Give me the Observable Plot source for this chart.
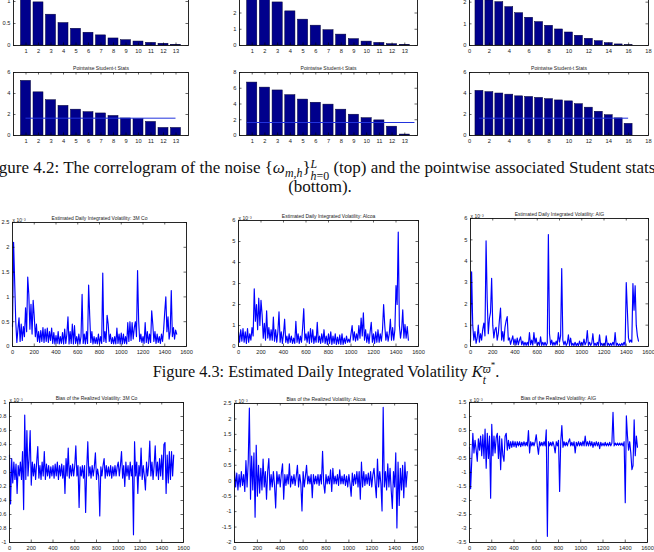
<!DOCTYPE html>
<html>
<head>
<meta charset="utf-8">
<script src="https://cdn.jsdelivr.net/npm/d3@7"></script>
<script src="https://cdn.jsdelivr.net/npm/@observablehq/plot@0.6"></script>
<style>
  html, body { margin: 0; padding: 0; background: #fff; }
  #page { position: relative; width: 654px; height: 552px; overflow: hidden; background: #fff; }
  #page svg { position: absolute; overflow: visible; }
  .cap { position: absolute; font-family: "Liberation Serif", "DejaVu Serif", serif; font-size: 17px;
         line-height: 18px; color: #111; white-space: nowrap; text-align: center; }
  .cap sub { font-size: 0.7em; vertical-align: -0.3em; line-height: 0; }
  .st { display: inline-block; vertical-align: -0.55em; line-height: 0.95; font-size: 0.7em; text-align: left; }
  .st span { display: block; }
</style>
</head>
<body>
<div id="page">
  <div class="cap" style="left:-300px;width:1240px;top:159px">Figure 4.2: The correlogram of the noise {<i>ω</i><sub><i>m,h</i></sub>}<span class="st"><span><i>L</i></span><span><i>h</i>=0</span></span> (top) and the pointwise associated Student stats</div>
  <div class="cap" style="left:-300px;width:1240px;top:178px">(bottom).</div>
  <div class="cap" style="left:-294px;width:1240px;top:361px;font-size:16.3px">Figure 4.3: Estimated Daily Integrated Volatility <i>K</i><span class="st"><span><i>ϖ</i><sup style="font-size:0.8em">*</sup></span><span><i>t</i></span></span>.</div>
</div>
<script>
// ---- correlograms (lags 1..L) ----
const lags13 = [1, 2, 3, 4, 5, 6, 7, 8, 9, 10, 11, 12, 13];
const lags16 = [1, 2, 3, 4, 5, 6, 7, 8, 9, 10, 11, 12, 13, 14, 15, 16];

const acf3M    = [1.1, 0.98, 0.70, 0.51, 0.38, 0.29, 0.23, 0.16, 0.12, 0.09, 0.06, 0.04, 0.015];
const acfAlcoa = [3.3, 3.0, 2.65, 2.1, 1.59, 1.22, 0.94, 0.67, 0.39, 0.24, 0.16, 0.08, 0.04];
const acfAIG   = [2.3, 2.08, 2.0, 1.77, 1.49, 1.28, 1.08, 0.91, 0.74, 0.6, 0.45, 0.31, 0.2, 0.11, 0.05, 0.015];

const tstat3M    = [5.2, 4.11, 3.36, 2.82, 2.46, 2.22, 2.1, 1.86, 1.62, 1.56, 1.29, 0.72, 0.72];
const tstatAlcoa = [6.72, 6.08, 5.72, 5.12, 4.56, 4.16, 3.92, 3.28, 2.64, 2.2, 1.92, 1.12, 0.12];
const tstatAIG   = [4.25, 4.13, 4.0, 3.89, 3.73, 3.67, 3.58, 3.46, 3.34, 3.25, 2.98, 2.65, 2.26, 1.93, 1.63, 1.11];
const tCritical = 1.65;

// ---- daily series (x 10^-3), one value every 10 trading days ----
const dayStep = 10;
const vol3M = [
  0.4, 2.1, 1.3, 0.5, 0.08, 0.35, 0.58, 0.1, 0.45, 0.12,
  0.4, 0.2, 0.78, 0.3, 1.4, 1.05, 0.35, 0.85, 0.25, 0.93,
  0.6, 0.2, 0.45, 0.1, 0.3, 0.08, 0.32, 0.1, 0.38, 0.08,
  0.35, 0.1, 0.37, 0.08, 0.3, 0.12, 0.37, 0.06, 0.28, 0.05,
  0.22, 0.06, 0.3, 0.05, 0.2, 0.06, 0.28, 0.05, 0.35, 0.06,
  0.25, 0.6, 0.05, 0.3, 0.06, 0.45, 0.05, 0.42, 0.06, 0.2,
  0.05, 0.25, 0.05, 0.2, 1.05, 0.06, 0.25, 0.05, 0.3, 0.06,
  1.24, 0.62, 0.08, 0.3, 0.05, 0.2, 0.06, 0.18, 0.05, 0.25,
  0.05, 0.2, 0.06, 1.48, 0.1, 0.3, 0.08, 0.63, 0.45, 0.1,
  0.25, 0.06, 0.18, 0.05, 0.2, 0.05, 0.37, 0.06, 0.25, 0.05,
  0.27, 0.05, 0.25, 0.06, 0.2, 0.05, 0.48, 0.1, 0.5, 0.12,
  0.48, 0.15, 0.38, 0.5, 0.2, 1.53, 0.52, 0.1, 0.25, 0.08,
  0.2, 0.06, 0.48, 0.08, 0.3, 0.06, 0.25, 0.08, 0.72, 0.45,
  0.1, 0.3, 0.06, 0.25, 0.08, 0.2, 0.06, 0.25, 0.1, 0.35,
  0.7, 1.0, 0.3, 0.6, 0.15, 0.3, 1.13, 0.2, 0.38, 0.15,
  0.33, 0.25
];
const volAlcoa = [
  0.7, 0.2, 0.8, 0.25, 0.85, 0.2, 0.7, 0.15, 0.85, 0.2,
  0.6, 0.3, 0.9, 0.5, 2.75, 1.2, 2.0, 0.8, 2.3, 1.0,
  2.2, 1.5, 0.4, 1.1, 0.3, 1.7, 0.4, 0.9, 0.3, 0.8,
  0.3, 1.4, 0.25, 0.8, 0.2, 0.7, 1.65, 0.2, 0.7, 0.15,
  0.6, 1.3, 0.2, 0.5, 0.15, 0.6, 0.2, 0.5, 0.15, 0.4,
  0.15, 1.2, 0.2, 0.6, 0.15, 0.5, 0.2, 0.9, 1.8, 0.3,
  0.6, 0.2, 0.7, 0.15, 0.85, 0.2, 0.8, 0.15, 0.5, 0.2,
  1.15, 0.2, 0.5, 0.15, 0.6, 0.2, 0.8, 0.15, 0.5, 0.1,
  0.6, 0.15, 0.7, 0.1, 0.5, 0.15, 0.6, 0.1, 0.45, 0.12,
  0.55, 0.1, 0.6, 0.1, 0.4, 0.15, 0.5, 0.2, 0.35, 0.2,
  0.6, 1.0, 0.3, 0.7, 0.25, 0.6, 0.3, 1.0, 0.4, 1.35,
  0.5, 1.6, 0.3, 0.8, 0.2, 0.6, 0.15, 0.7, 1.15, 0.2,
  0.6, 0.15, 0.7, 0.2, 0.8, 0.2, 0.6, 0.25, 0.8, 2.0,
  1.0, 0.3, 0.7, 0.25, 0.6, 1.3, 0.3, 0.9, 0.3, 0.8,
  2.9, 2.0, 5.45, 1.0, 0.4, 0.8, 1.75, 0.4, 1.05, 0.4,
  0.95, 0.3
];
const volAIG = [
  0.2, 3.5, 1.0, 0.3, 0.7, 0.15, 0.4, 1.0, 0.2, 0.6,
  0.3, 0.8, 1.1, 0.5, 4.95, 2.2, 0.6, 1.3, 1.6, 3.2,
  1.0, 0.4, 0.8, 0.9, 0.3, 0.6, 1.25, 1.8, 0.3, 0.7,
  0.25, 0.9, 1.2, 1.4, 0.3, 0.4, 0.1, 0.3, 0.5, 0.1,
  0.35, 0.08, 0.4, 0.08, 0.3, 0.45, 0.08, 0.25, 0.05, 0.2,
  0.05, 0.2, 0.05, 0.65, 0.08, 0.3, 0.06, 0.65, 0.15, 0.4,
  0.05, 0.2, 0.05, 0.45, 0.05, 0.2, 0.05, 0.2, 0.05, 0.15,
  5.25, 0.6, 0.08, 0.3, 0.05, 0.2, 0.06, 0.25, 0.08, 0.65,
  0.2, 0.5, 3.65, 0.3, 0.08, 0.25, 0.05, 0.15, 0.55, 0.05,
  0.4, 0.05, 0.15, 0.04, 0.2, 0.04, 0.15, 0.04, 0.25, 0.05,
  0.2, 0.05, 0.35, 0.08, 0.2, 0.75, 0.05, 0.2, 0.05, 0.15,
  0.6, 0.05, 0.15, 0.04, 0.2, 0.04, 0.55, 0.05, 0.15, 0.04,
  0.15, 0.04, 0.5, 0.05, 0.15, 0.04, 0.15, 0.05, 0.2, 0.05,
  0.65, 0.05, 0.15, 0.04, 0.12, 0.04, 0.15, 0.05, 0.2, 0.05,
  3.0, 1.7, 0.4, 0.2, 0.3, 0.2, 2.95, 1.7, 2.85, 1.0,
  0.5, 0.25
];
const bias3M = [
  0.25, -0.45, 0.2, -0.15, 0.15, -0.1, 0.12, -0.3, 0.1, -0.05,
  0.15, -0.1, 0.3, -0.53, 0.82, -0.1, 0.6, -0.05, 0.2, 0.6,
  -0.18, 0.15, -0.05, 0.12, -0.1, 0.15, 0.37, -0.08, 0.1, -0.1,
  0.15, -0.05, 0.3, -0.1, 0.12, -0.05, 0.1, -0.08, 0.08, -0.05,
  0.1, -0.08, 0.12, -0.05, 0.15, -0.1, 0.1, -0.05, 0.12, -0.08,
  0.1, -0.3, 0.2, -0.05, 0.35, -0.08, 0.1, -0.05, 0.12, -0.05,
  0.1, 0.38, -0.05, 0.1, -0.5, 0.08, -0.05, 0.1, -0.08, 0.1,
  -0.57, 0.05, 0.44, -0.05, 0.08, -0.08, 0.1, -0.05, 0.08, 0.28,
  -0.1, 0.05, -0.05, -0.62, 0.08, -0.05, 0.1, 0.2, -0.08, 0.1,
  -0.05, 0.08, -0.05, 0.1, -0.08, 0.08, -0.05, 0.1, -0.05, 0.08,
  0.15, -0.05, 0.1, 0.3, -0.08, 0.1, -0.2, 0.15, -0.05, 0.1,
  -0.1, 0.15, -0.05, 0.1, -0.89, 0.44, -0.05, 0.15, -0.3, 0.1,
  -0.05, 0.35, -0.1, 0.1, -0.05, -0.25, 0.15, -0.05, 0.1, 0.45,
  -0.05, 0.15, -0.1, 0.1, 0.38, -0.05, 0.15, -0.1, 0.2, -0.05,
  0.25, -0.1, 0.4, 0.43, -0.3, 0.25, -0.15, 0.3, -0.1, 0.3,
  -0.05, 0.25
];
const biasAlcoa = [
  0.3, -0.2, 0.25, -0.3, 0.2, -0.2, 0.3, -0.15, 0.2, -0.35,
  0.65, -0.2, 0.6, 2.35, -0.6, 0.8, -0.3, 0.9, -1.18, 1.15,
  -0.5, 0.5, -0.4, 0.4, -0.3, 0.7, -0.2, 0.3, -0.6, 0.3,
  0.72, -0.3, 0.2, -0.2, 0.3, -0.15, -0.88, 0.3, -0.1, 0.2,
  -0.2, 0.25, 0.55, -0.6, 0.2, -0.15, 0.2, -0.1, 0.55, -0.2,
  0.15, -0.1, 0.2, -0.15, 0.15, 0.5, -0.2, 0.2, -0.1, -0.98,
  0.3, -0.2, 0.15, 0.5, -0.1, 0.15, -0.1, 0.2, -0.55, 0.2,
  -0.1, 0.15, -0.1, 0.2, -0.15, 0.2, -0.1, 0.95, -0.1, -0.4,
  0.2, -0.1, 0.15, -0.1, 0.35, -0.35, 0.4, -0.1, 0.15, -0.1,
  0.2, -0.15, 0.35, -0.1, 0.15, -0.1, 0.2, -0.15, 0.15, -0.2,
  0.2, -0.1, -0.5, 0.25, -0.15, 0.2, -0.1, 0.3, -0.2, 0.3,
  -0.6, 0.6, -0.2, 0.3, -0.15, 0.2, -0.1, 0.25, -0.15, 0.3,
  -0.2, 0.2, 0.4, -0.1, -0.55, 0.7, -0.2, 0.3, -0.1, -0.98,
  2.38, -0.2, 0.3, -0.3, 0.55, -0.2, 0.4, -0.3, -0.9, 0.3,
  -0.2, 0.9, -1.53, 0.6, -0.8, 0.4, -0.3, 0.5, -0.55, 0.6,
  -0.2, 0.3
];
const biasAIG = [
  -0.1, -1.58, -0.6, 0.4, -0.3, 0.15, -0.2, -0.6, 0.2, -0.2,
  0.3, -0.4, 0.35, -0.5, 0.55, -0.85, 0.4, -0.5, 0.3, -1.92,
  0.72, -0.4, 0.3, -0.3, 0.25, 0.4, -0.5, 0.3, -0.9, 0.2,
  -0.4, -0.6, 0.3, 0.4, -0.2, 0.15, -0.15, 0.1, -0.1, 0.12,
  -0.08, 0.1, -0.1, 0.1, -0.05, 0.1, -0.08, 0.08, -0.05, 0.1,
  -0.05, 0.08, -0.05, 0.5, -0.3, 0.1, -0.05, 0.08, -0.05, 0.1,
  0.35, -0.05, -0.35, 0.1, -0.05, 0.08, -0.05, 0.1, -0.05, 0.52,
  -3.28, 0.1, -0.05, 0.08, -0.05, 0.1, -0.05, -0.3, 0.1, -0.05,
  0.15, -1.68, 0.1, 0.68, -0.1, 0.1, -0.05, 0.08, -0.05, 0.1,
  0.2, -0.05, 0.08, -0.05, 0.1, -0.3, 0.08, -0.05, 0.1, -0.05,
  0.08, -0.05, 0.12, -0.05, 0.3, -0.05, 0.1, -0.05, 0.12, -0.05,
  0.1, -0.1, 0.08, -0.05, 0.1, -0.05, 0.08, -0.15, 0.08, -0.05,
  0.05, -0.05, 0.08, -0.05, 0.05, -0.05, 0.08, -0.05, 0.05, 1.15,
  -0.05, 0.05, -0.03, 0.05, -0.03, 0.05, -0.03, 0.05, -0.05, 0.1,
  -2.08, 1.02, 0.3, -0.2, 0.1, -0.3, -0.9, -0.75, 0.88, -0.4,
  0.3, -0.1
];

// ---- tick values ----
const dayTicks = [0, 200, 400, 600, 800, 1000, 1200, 1400, 1600];
const lagTicks18 = [0, 2, 4, 6, 8, 10, 12, 14, 16, 18];
const ticksAcf3M = [0, 0.5, 1, 1.5];
const ticks0to4 = [0, 1, 2, 3, 4];
const ticks0to3 = [0, 1, 2, 3];
const ticksT6 = [0, 2, 4, 6];
const ticksT8 = [0, 2, 4, 6, 8];
const ticksVol3M = [0, 0.5, 1, 1.5, 2, 2.5];
const ticks0to6 = [0, 1, 2, 3, 4, 5, 6];
const ticksBias3M = [-1, -0.8, -0.6, -0.4, -0.2, 0, 0.2, 0.4, 0.6, 0.8, 1];
const ticksBiasAlcoa = [-2, -1.5, -1, -0.5, 0, 0.5, 1, 1.5, 2, 2.5];
const ticksBiasAIG = [-3.5, -3, -2.5, -2, -1.5, -1, -0.5, 0, 0.5, 1, 1.5];

const studentTitle = "Pointwise Student-t Stats";
const exponentLabel = "x 10\u207B\u00B3";

const page = document.getElementById("page");
const fmt = d => String(d);
const sans = "'Liberation Sans', Arial, Helvetica, sans-serif";

// one MATLAB-style axes box: inward ticks on all four sides
function panel({box, x, y, xTicks, yTicks, title, exponent, marks}) {
  const [left, top, right, bottom] = box;
  const w = right - left, h = bottom - top;
  const mL = 30, mR = 12, mT = 14, mB = 14, tl = 2.5;
  const tickStyle = {stroke: "#000", strokeWidth: 0.6};
  const fig = Plot.plot({
    width: w + mL + mR, height: h + mT + mB,
    marginLeft: mL, marginRight: mR, marginTop: mT, marginBottom: mB,
    x: {type: "linear", domain: x, label: null},
    y: {type: "linear", domain: y, label: null},
    style: {fontFamily: sans, fontSize: "5.7px", color: "#222", background: "none", overflow: "visible"},
    marks: [
      ...marks,
      Plot.tickX(xTicks, {x: d => d, insetTop: h - tl, ...tickStyle}),
      Plot.tickX(xTicks, {x: d => d, insetBottom: h - tl, ...tickStyle}),
      Plot.tickY(yTicks, {y: d => d, insetRight: w - tl, ...tickStyle}),
      Plot.tickY(yTicks, {y: d => d, insetLeft: w - tl, ...tickStyle}),
      Plot.frame({stroke: "#111", strokeWidth: 0.9}),
      Plot.axisX({ticks: xTicks, tickSize: 0, tickPadding: 3, tickFormat: fmt, label: null}),
      Plot.axisY({ticks: yTicks, tickSize: 0, tickPadding: 3, tickFormat: fmt, label: null}),
      title ? Plot.text([title], {text: d => d, frameAnchor: "top", dy: -6, fontSize: 5, fill: "#222"}) : null,
      exponent ? Plot.text([exponent], {text: d => d, frameAnchor: "top-left", textAnchor: "start", dy: -4, fontSize: 5, fill: "#222"}) : null
    ]
  });
  fig.style.left = (left - mL) + "px";
  fig.style.top = (top - mT) + "px";
  page.appendChild(fig);
}

const barFill = "#00008c";
function bars(lags, values) {
  return Plot.rectY(values, {
    x1: (d, i) => lags[i] - 0.4, x2: (d, i) => lags[i] + 0.4,
    y1: 0, y2: d => d, fill: barFill, stroke: "#000033", strokeWidth: 0.5
  });
}
function critical(from, to) {
  return Plot.ruleY([tCritical], {x1: from, x2: to, stroke: "#2233dd", strokeWidth: 1});
}
function series(values) {
  return Plot.lineY(values, {x: (d, i) => i * dayStep, y: d => d, stroke: "#0000ff", strokeWidth: 1.15});
}

// correlograms
panel({box: [13, -21, 188, 45], x: [0, 14], y: [0, 1.5], xTicks: lags13, yTicks: ticksAcf3M, marks: [bars(lags13, acf3M)]});
panel({box: [239, -20, 417, 45], x: [0, 14], y: [0, 4], xTicks: lags13, yTicks: ticks0to4, marks: [bars(lags13, acfAlcoa)]});
panel({box: [469, -20, 648, 45], x: [0, 18], y: [0, 3], xTicks: lagTicks18, yTicks: ticks0to3, marks: [bars(lags16, acfAIG)]});

// Student-t statistics
panel({box: [13, 72, 188, 135], x: [0, 14], y: [0, 6], xTicks: lags13, yTicks: ticksT6, title: studentTitle,
       marks: [bars(lags13, tstat3M), critical(1, 13)]});
panel({box: [239, 72, 417, 135], x: [0, 14], y: [0, 8], xTicks: lags13, yTicks: ticksT8, title: studentTitle,
       marks: [bars(lags13, tstatAlcoa), critical(0.6, 13.8)]});
panel({box: [469, 72, 648, 135], x: [0, 18], y: [0, 6], xTicks: lagTicks18, yTicks: ticksT6, title: studentTitle,
       marks: [bars(lags16, tstatAIG), critical(1, 16)]});

// estimated daily integrated volatility
panel({box: [12, 222, 186, 346], x: [0, 1600], y: [0, 2.5], xTicks: dayTicks, yTicks: ticksVol3M,
       title: "Estimated Daily Integrated Volatility: 3M Co", exponent: exponentLabel, marks: [series(vol3M)]});
panel({box: [238, 220, 418, 346], x: [0, 1600], y: [0, 6], xTicks: dayTicks, yTicks: ticks0to6,
       title: "Estimated Daily Integrated Volatility: Alcoa", exponent: exponentLabel, marks: [series(volAlcoa)]});
panel({box: [470, 218, 648, 346], x: [0, 1600], y: [0, 6], xTicks: dayTicks, yTicks: ticks0to6,
       title: "Estimated Daily Integrated Volatility: AIG", exponent: exponentLabel, marks: [series(volAIG)]});

// bias of the realized volatility
panel({box: [9, 402, 183, 542], x: [0, 1600], y: [-1, 1], xTicks: dayTicks, yTicks: ticksBias3M,
       title: "Bias of the Realized Volatility: 3M Co", exponent: exponentLabel, marks: [series(bias3M)]});
panel({box: [234, 403, 417, 542], x: [0, 1600], y: [-2, 2.5], xTicks: dayTicks, yTicks: ticksBiasAlcoa,
       title: "Bias of the Realized Volatility: Alcoa", exponent: exponentLabel, marks: [series(biasAlcoa)]});
panel({box: [469, 402, 647, 542], x: [0, 1600], y: [-3.5, 1.5], xTicks: dayTicks, yTicks: ticksBiasAIG,
       title: "Bias of the Realized Volatility: AIG", exponent: exponentLabel, marks: [series(biasAIG)]});
</script>
</body>
</html>
